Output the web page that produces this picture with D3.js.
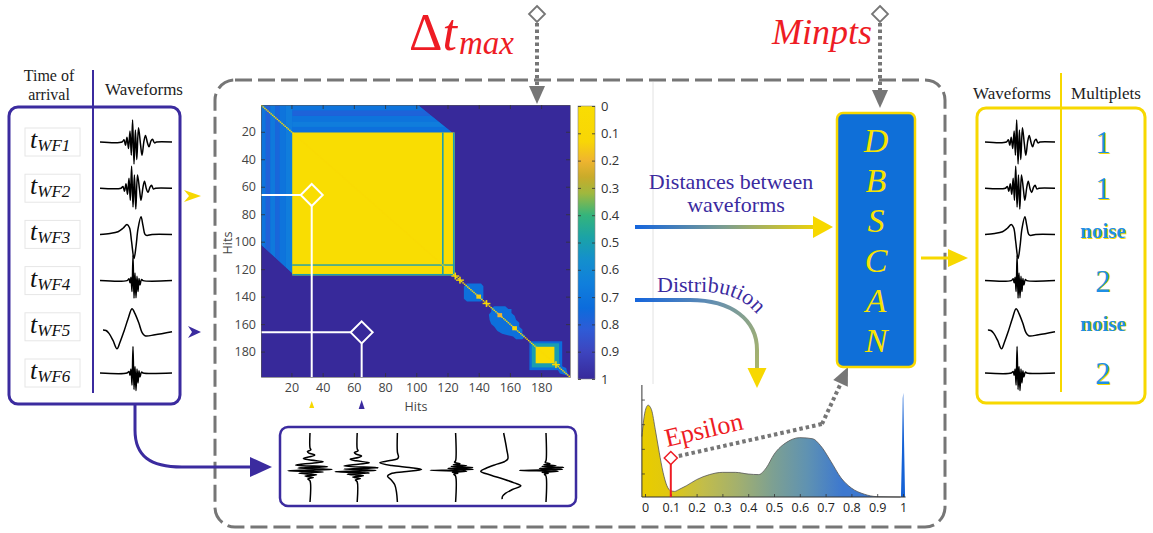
<!DOCTYPE html>
<html>
<head>
<meta charset="utf-8">
<script src="https://cdn.jsdelivr.net/npm/d3@7"></script>
<style>
  html, body { margin: 0; padding: 0; background: #fff; }
  svg { display: block; }
</style>
</head>
<body>
<svg id="fig" width="1153" height="533"></svg>
<script>
// ---------------- data ----------------
const waveNames = ["WF1", "WF2", "WF3", "WF4", "WF5", "WF6"];
const multiplets = ["1", "1", "noise", "2", "noise", "2"];

// waveform samples: [time (0-72), normalised amplitude]
const wave1 = [[0,0],[22,0],[24,0.1],[25.5,-0.15],[27,0.22],[28.5,-0.3],[30,0.5],[31.3,-0.6],[32.6,1.0],[34,-1.0],[35.4,0.55],[36.8,-0.8],[38.5,0.65],[40.5,-0.1],[42,-0.6],[44,0.05],[45.5,0.3],[47.5,-0.05],[49,-0.22],[51,0.05],[52.5,0.12],[54.5,-0.04],[56.5,0],[72,0]];
const wave2 = [[0,0],[21,0],[23,0.08],[24.5,-0.14],[26,0.2],[27.5,-0.28],[29,0.45],[30.3,-0.55],[31.6,1.0],[33,-0.85],[34.4,0.6],[35.8,-0.95],[37.5,0.6],[39.5,-0.05],[41,-0.55],[43,0.05],[44.5,0.32],[46.5,-0.05],[48,-0.2],[50,0.05],[51.5,0.13],[53.5,-0.04],[55.5,0],[72,0]];
const wave3 = [[0,0],[10,0.04],[18,0.12],[23,0.28],[27,0.45],[29.5,0.3],[31.5,-0.3],[34,-1.1],[36,-0.55],[38,0.25],[41,0.8],[43,0.4],[45,0.0],[47,-0.05],[52,0],[72,0]];
const wave4 = [[0,0],[27,0],[29,0.08],[30,-0.1],[31,0.15],[32,-0.5],[33,1.15],[34,-0.8],[35,0.35],[36,-0.78],[37,0.2],[38,-0.5],[39,0.1],[40,-0.2],[41.5,0.05],[43,0],[72,0]];
const wave5 = [[3,-0.15],[6,-0.17],[9,-0.3],[13,-0.62],[17,-1.0],[20,-0.7],[24,-0.2],[28,0.35],[32,0.82],[35,0.6],[39,0.15],[42,-0.25],[45,-0.41],[55,-0.36],[72,-0.22]];
const wave6 = [[0,0],[27,0],[29,0.07],[30,-0.1],[31,0.18],[32,-0.55],[33,1.2],[34,-0.75],[35,0.3],[36,-0.8],[37,0.18],[38,-0.45],[39,0.1],[40,-0.18],[41.5,0.04],[43,0],[72,0]];
const waves = [wave1, wave2, wave3, wave4, wave5, wave6];

// distance matrix between hits
const hitDomain = [0.5, 198.5];
const hitTicks = [20, 40, 60, 80, 100, 120, 140, 160, 180];
const colorbarTicks = [0, 0.1, 0.2, 0.3, 0.4, 0.5, 0.6, 0.7, 0.8, 0.9, 1];
const colorStops  = [0, 0.13, 0.2, 0.26, 0.32, 0.4, 0.48, 0.56, 0.65, 0.74, 0.82, 0.9, 1];
const colorValues = ["#f9dd02","#f8d606","#efb52f","#c9ab2a","#9fb83e","#34b47c","#1ba3a6","#1490cc","#107fdc","#0c6cdc","#2f5bd6","#3d45bf","#37299a"];

const bandPolygon = [[0.5,0.5],[101,0.5],[124.5,22],[124.5,124.5],[22,124.5],[0.5,102]];
const bandValue = 0.74;
const bandStripeCols = [[0.5,3.5,0.7],[3.5,6.5,0.79],[6.5,9.5,0.68],[9.5,12.5,0.77],[12.5,16.5,0.7],[16.5,20.5,0.66]];
const bandStripeRows = [[0.5,4.5,0.7],[4.5,8.5,0.78],[8.5,12.5,0.7],[12.5,16.5,0.66],[16.5,20.5,0.72]];
const coreBlock = [20.5, 124.5];
const coreSeams = [117, 124];
const seamValue = 0.5;
const clusterA = [[132.5,130.5],[141.5,130.5],[143,132.5],[143,141.5],[141.5,143.5],[132.5,143.5],[130.5,141.5],[130.5,132.5]];
const clusterB = [[150,147],[157,147],[159,149],[161,149],[161,152],[163,154],[164,157],[166,159],[166,162],[168,164],[168,167],[170,168.5],[168,171],[164,171],[162,169],[158,168],[155,167],[152,165],[150,162],[148,160],[147,157],[146.5,153],[148,151],[148,148]];
const clusterC = [[172.5,193.5,0.74],[174,191.5,0.5],[176.5,188.5,0]];
const clusterTail = [[188,188],[196,192],[197.5,197.5],[192,196]];
const diagonalMarks = [125, 128, 145, 189.5];
const diagonalDots = [[153.5, 0.2], [140, 0.15], [163, 0.12]];
const pickedPairs = [[33, 66], [65, 166]];   // (column hit, row hit)

// distribution of distances
const distX = [-0.012, 0, 0.012, 0.025, 0.04, 0.055, 0.07, 0.085, 0.1, 0.115, 0.13, 0.16, 0.2, 0.25, 0.3, 0.35, 0.4, 0.44, 0.47, 0.5, 0.55, 0.6, 0.65, 0.68, 0.72, 0.76, 0.8, 0.85, 0.9, 0.99];
const distY = [0.54, 0.76, 0.82, 0.78, 0.6, 0.4, 0.22, 0.1, 0.055, 0.05, 0.065, 0.1, 0.155, 0.2, 0.22, 0.22, 0.205, 0.2, 0.26, 0.38, 0.49, 0.53, 0.52, 0.46, 0.32, 0.17, 0.08, 0.025, 0.003, 0];
const spikeX = [0.992, 0.996, 0.999, 1.001, 1.004, 1.008];
const spikeY = [0, 0.4, 0.88, 0.93, 0.5, 0];
const distTicks = [0, 0.1, 0.2, 0.3, 0.4, 0.5, 0.6, 0.7, 0.8, 0.9, 1];
const densityTicks = [0.21, 0.43, 0.65, 0.87];
const epsilon = 0.1;
const distGradOffsets = [0, 0.1, 0.25, 0.4, 0.55, 0.7, 0.85];
const distGradColors = ["#e8cc00", "#e0c810", "#c2bd4a", "#a3b06e", "#7da092", "#5f92b2", "#3d78cf"];

// ---------------- styles ----------------
const SERIF = "'Liberation Serif', 'DejaVu Serif', serif";
const SANS = "'Open Sans', 'Noto Sans', 'DejaVu Sans', sans-serif";
const PURPLE = "#3b2b9f";
const YELLOW = "#f7d800";
const RED = "#ee1c24";
const GRAY = "#767676";
const BLUE_TXT = "#1f8fe5";

const svg = d3.select("#fig");
const defs = svg.append("defs");

function arrowHead(g, tip, angleDeg, len, wid, color) {
  const a = angleDeg * Math.PI / 180;
  const ux = Math.cos(a), uy = Math.sin(a);
  const px = -uy, py = ux;
  const bx = tip[0] - ux * len, by = tip[1] - uy * len;
  g.append("path")
    .attr("d", `M${tip[0]},${tip[1]}L${bx + px * wid / 2},${by + py * wid / 2}L${bx - px * wid / 2},${by - py * wid / 2}Z`)
    .attr("fill", color);
}

const waveLine = d3.line().curve(d3.curveCatmullRom.alpha(0.5));

function drawWave(g, data, x0, cy, width, amp) {
  const x = d3.scaleLinear().domain([0, 72]).range([x0, x0 + width]);
  const y = d3.scaleLinear().domain([-1, 1]).range([cy + amp, cy - amp]);
  g.append("path")
    .attr("d", waveLine.x(d => x(d[0])).y(d => y(d[1]))(data))
    .attr("fill", "none").attr("stroke", "#000")
    .attr("stroke-width", 1.5).attr("stroke-linejoin", "round");
}

function drawWaveVertical(g, data, cx, yBottom, height, amp) {
  const t = d3.scaleLinear().domain([0, 72]).range([yBottom, yBottom - height]);
  const a = d3.scaleLinear().domain([-1, 1]).range([cx + amp, cx - amp]);
  g.append("path")
    .attr("d", waveLine.x(d => a(d[1])).y(d => t(d[0]))(data))
    .attr("fill", "none").attr("stroke", "#000")
    .attr("stroke-width", 1.5).attr("stroke-linejoin", "round");
}

function diamond(g, cx, cy, r, stroke, sw, fill) {
  g.append("path")
    .attr("d", `M${cx},${cy - r}L${cx + r},${cy}L${cx},${cy + r}L${cx - r},${cy}Z`)
    .attr("fill", fill || "#fff").attr("stroke", stroke).attr("stroke-width", sw);
}

// ---------------- central dashed frame ----------------
svg.append("rect")
  .attr("x", 215).attr("y", 80).attr("width", 730).attr("height", 447).attr("rx", 20)
  .attr("fill", "none").attr("stroke", GRAY).attr("stroke-width", 3)
  .attr("stroke-dasharray", "17,6");
svg.append("line").attr("x1", 653).attr("x2", 653).attr("y1", 82).attr("y2", 384)
  .attr("stroke", "#e2e2e2").attr("stroke-width", 1);

// ---------------- left panel: arrival times ----------------
const rowY = d3.scalePoint().domain(d3.range(6)).range([142, 373]);
const left = svg.append("g");
left.append("rect").attr("x", 9).attr("y", 107).attr("width", 171).attr("height", 297).attr("rx", 9)
  .attr("fill", "none").attr("stroke", PURPLE).attr("stroke-width", 3);
left.append("line").attr("x1", 93).attr("x2", 93).attr("y1", 70).attr("y2", 393)
  .attr("stroke", PURPLE).attr("stroke-width", 2);
left.append("text").attr("x", 49).attr("y", 81).attr("text-anchor", "middle")
  .style("font-family", SERIF).style("font-size", "16px").attr("fill", "#222").text("Time of");
left.append("text").attr("x", 49).attr("y", 100).attr("text-anchor", "middle")
  .style("font-family", SERIF).style("font-size", "16px").attr("fill", "#222").text("arrival");
left.append("text").attr("x", 144).attr("y", 95).attr("text-anchor", "middle")
  .style("font-family", SERIF).style("font-size", "17px").attr("fill", "#222").text("Waveforms");

waveNames.forEach((name, i) => {
  const cy = rowY(i);
  left.append("rect").attr("x", 25).attr("y", cy - 14).attr("width", 55).attr("height", 28)
    .attr("fill", "#fff").attr("stroke", "#e6e6e6").attr("stroke-width", 1);
  const t = left.append("text").attr("x", 30).attr("y", cy + 6)
    .style("font-family", SERIF).style("font-style", "italic").attr("fill", "#111");
  t.append("tspan").style("font-size", "26px").text("t");
  t.append("tspan").style("font-size", "17px").attr("dy", 3).text(name);
  drawWave(left, waves[i], 100, cy, 72, 22);
});

// small pointers on arrival rows
svg.append("path").attr("d", "M184,190L201,196L184,202L189,196Z").attr("fill", YELLOW);
svg.append("path").attr("d", "M188,326L201,332L188,338L192,332Z").attr("fill", PURPLE);

// arrow to the stacked waveforms
svg.append("path").attr("d", "M135,404L135,430C135,456 150,467 182,467L252,467")
  .attr("fill", "none").attr("stroke", PURPLE).attr("stroke-width", 3);
arrowHead(svg, [272, 467], 0, 22, 20, PURPLE);

// ---------------- stacked (rotated) waveforms ----------------
const stack = svg.append("g");
stack.append("rect").attr("x", 280).attr("y", 427).attr("width", 296).attr("height", 79).attr("rx", 8)
  .attr("fill", "#fff").attr("stroke", PURPLE).attr("stroke-width", 2.5);
const stackX = d3.scalePoint().domain(d3.range(6)).range([310, 546]);
const stackShift = [0, 0, -7, 4, 0, 0];
waves.forEach((w, i) => drawWaveVertical(stack, w, stackX(i) + stackShift[i], 502, 69, 22));

// ---------------- distance matrix ----------------
const hx = d3.scaleLinear().domain(hitDomain).range([261, 570]);
const hy = d3.scaleLinear().domain(hitDomain).range([105, 377]);
const cmap = d3.scaleLinear().domain(colorStops).range(colorValues).interpolate(d3.interpolateRgb);
const poly = pts => "M" + pts.map(p => hx(p[0]) + "," + hy(p[1])).join("L") + "Z";
const cell = (g, c0, c1, r0, r1, v) => g.append("rect")
  .attr("x", hx(c0)).attr("y", hy(r0))
  .attr("width", hx(c1) - hx(c0)).attr("height", hy(r1) - hy(r0))
  .attr("fill", cmap(v));

defs.append("clipPath").attr("id", "heatClip").append("rect")
  .attr("x", hx(hitDomain[0])).attr("y", hy(hitDomain[0]))
  .attr("width", hx(hitDomain[1]) - hx(hitDomain[0])).attr("height", hy(hitDomain[1]) - hy(hitDomain[0]));
defs.append("clipPath").attr("id", "bandClip").append("path").attr("d", poly(bandPolygon));

const heat = svg.append("g").attr("clip-path", "url(#heatClip)");
cell(heat, hitDomain[0], hitDomain[1], hitDomain[0], hitDomain[1], 1);
heat.append("path").attr("d", poly(bandPolygon)).attr("fill", cmap(bandValue));
const stripes = heat.append("g").attr("clip-path", "url(#bandClip)");
bandStripeRows.forEach(([a, b, v]) => cell(stripes, 20.5, 124.5, a, b, v));
bandStripeCols.forEach(([a, b, v]) => cell(stripes, a, b, 0.5, 124.5, v));

cell(heat, coreBlock[0], coreBlock[1], coreBlock[0], coreBlock[1], 0);
coreSeams.forEach(s => {
  cell(heat, s - 0.5, s + 0.5, coreBlock[0], coreBlock[1], seamValue);
  cell(heat, coreBlock[0], coreBlock[1], s - 0.5, s + 0.5, seamValue);
});

heat.append("path").attr("d", poly(clusterA)).attr("fill", cmap(0.72));
heat.append("path").attr("d", poly(clusterB)).attr("fill", cmap(0.72));
heat.append("path").attr("d", poly(clusterTail)).attr("fill", cmap(0.72));
clusterC.forEach(([a, b, v]) => cell(heat, a, b, a, b, v));

d3.range(1, 199).forEach(i => cell(heat, i - 0.5, i + 0.5, i - 0.5, i + 0.5, 0.05));
diagonalMarks.forEach(h => {
  cell(heat, h - 2.5, h + 2.5, h - 0.5, h + 0.5, 0.1);
  cell(heat, h - 0.5, h + 0.5, h - 2.5, h + 2.5, 0.1);
});
diagonalDots.forEach(([h, v]) => cell(heat, h - 1.5, h + 1.5, h - 1.5, h + 1.5, v));

// highlighted pairs
const picks = svg.append("g");
pickedPairs.forEach(([c, r]) => {
  picks.append("line").attr("x1", hx(hitDomain[0])).attr("x2", hx(c) - 11)
    .attr("y1", hy(r)).attr("y2", hy(r)).attr("stroke", "#fff").attr("stroke-width", 2);
  picks.append("line").attr("x1", hx(c)).attr("x2", hx(c))
    .attr("y1", hy(r) + 11).attr("y2", hy(hitDomain[1])).attr("stroke", "#fff").attr("stroke-width", 2);
  diamond(picks, hx(c), hy(r), 11, "#fff", 2, "none");
});
svg.append("path").attr("d", `M${hx(pickedPairs[0][0]) - 2.5},408L${hx(pickedPairs[0][0])},401L${hx(pickedPairs[0][0]) + 2.5},408Z`).attr("fill", YELLOW);
svg.append("path").attr("d", `M${hx(pickedPairs[1][0]) - 3},409L${hx(pickedPairs[1][0])},400L${hx(pickedPairs[1][0]) + 3},409Z`).attr("fill", PURPLE);

// axes (ticks pointing inwards)
function styleAxis(g) {
  g.select(".domain").attr("stroke", "#555").attr("stroke-width", 0.6);
  g.selectAll(".tick line").attr("stroke", "#333").attr("stroke-width", 0.8);
  g.selectAll(".tick text").attr("fill", "#444").style("font-family", SANS).style("font-size", "12.5px");
}
svg.append("g").attr("transform", `translate(${hx(hitDomain[0])},0)`)
  .call(d3.axisLeft(hy).tickValues(hitTicks).tickSizeInner(-4).tickSizeOuter(0).tickPadding(5)).call(styleAxis);
svg.append("g").attr("transform", `translate(0,${hy(hitDomain[1])})`)
  .call(d3.axisBottom(hx).tickValues(hitTicks).tickSizeInner(-4).tickSizeOuter(0).tickPadding(6)).call(styleAxis);
svg.append("g").attr("transform", `translate(0,${hy(hitDomain[0])})`)
  .call(d3.axisTop(hx).tickValues(hitTicks).tickSizeInner(-4).tickSizeOuter(0).tickFormat("")).call(styleAxis);
svg.append("g").attr("transform", `translate(${hx(hitDomain[1])},0)`)
  .call(d3.axisRight(hy).tickValues(hitTicks).tickSizeInner(-4).tickSizeOuter(0).tickFormat("")).call(styleAxis);
svg.append("text").attr("transform", "translate(232,243) rotate(-90)").attr("text-anchor", "middle")
  .style("font-family", SANS).style("font-size", "12.5px").attr("fill", "#444").text("Hits");
svg.append("text").attr("x", 416).attr("y", 411).attr("text-anchor", "middle")
  .style("font-family", SANS).style("font-size", "12.5px").attr("fill", "#444").text("Hits");

// colorbar
const cb = d3.scaleLinear().domain([0, 1]).range([106, 379]);
const cbGrad = defs.append("linearGradient").attr("id", "cbGrad").attr("x1", 0).attr("x2", 0).attr("y1", 0).attr("y2", 1);
colorStops.forEach((s, i) => cbGrad.append("stop").attr("offset", s).attr("stop-color", colorValues[i]));
svg.append("rect").attr("x", 578).attr("y", cb(0)).attr("width", 17).attr("height", cb(1) - cb(0))
  .attr("fill", "url(#cbGrad)").attr("stroke", "#888").attr("stroke-width", 0.6);
svg.append("g").attr("transform", "translate(595,0)")
  .call(d3.axisRight(cb).tickValues(colorbarTicks).tickSizeInner(-3).tickSizeOuter(0).tickPadding(6).tickFormat(d3.format("")))
  .call(styleAxis).call(g => g.select(".domain").remove())
  .call(g => g.selectAll(".tick text").attr("fill", "#333").style("font-size", "13px"));
svg.append("g").attr("transform", "translate(578,0)")
  .call(d3.axisLeft(cb).tickValues(colorbarTicks).tickSizeInner(-3).tickSizeOuter(0).tickFormat(""))
  .call(styleAxis).call(g => g.select(".domain").remove());

// Δt_max control
svg.append("line").attr("x1", 537).attr("x2", 537).attr("y1", 23).attr("y2", 86)
  .attr("stroke", GRAY).attr("stroke-width", 4).attr("stroke-dasharray", "3.5,3");
arrowHead(svg, [537, 104], 90, 18, 16, GRAY);
diamond(svg, 537, 14, 8, GRAY, 1.8);
const dt = svg.append("text").attr("x", 409).attr("y", 50).attr("fill", RED).style("font-family", SERIF);
dt.append("tspan").style("font-size", "52px").text("Δ");
dt.append("tspan").style("font-size", "52px").style("font-style", "italic").text("t");
dt.append("tspan").style("font-size", "33px").style("font-style", "italic").attr("dx", 2).attr("dy", 4).text("max");

// ---------------- distances → DBSCAN ----------------
const distGradLine = defs.append("linearGradient").attr("id", "distLine").attr("gradientUnits", "userSpaceOnUse")
  .attr("x1", 635).attr("x2", 815).attr("y1", 0).attr("y2", 0);
distGradLine.append("stop").attr("offset", 0).attr("stop-color", "#1565dd");
distGradLine.append("stop").attr("offset", 0.5).attr("stop-color", "#7d9e90");
distGradLine.append("stop").attr("offset", 1).attr("stop-color", "#ecd20a");
svg.append("line").attr("x1", 635).attr("x2", 815).attr("y1", 227).attr("y2", 227)
  .attr("stroke", "url(#distLine)").attr("stroke-width", 4);
arrowHead(svg, [833, 227], 0, 20, 22, YELLOW);
svg.append("text").attr("x", 731).attr("y", 189).attr("text-anchor", "middle")
  .style("font-family", SERIF).style("font-size", "22px").attr("fill", PURPLE).text("Distances  between");
svg.append("text").attr("x", 736).attr("y", 212).attr("text-anchor", "middle")
  .style("font-family", SERIF).style("font-size", "22px").attr("fill", PURPLE).text("waveforms");

// distribution arrow (curved)
const distrGrad = defs.append("linearGradient").attr("id", "distrLine").attr("gradientUnits", "userSpaceOnUse")
  .attr("x1", 635).attr("y1", 300).attr("x2", 757).attr("y2", 368);
distrGrad.append("stop").attr("offset", 0).attr("stop-color", "#1565dd");
distrGrad.append("stop").attr("offset", 0.55).attr("stop-color", "#6c93aa");
distrGrad.append("stop").attr("offset", 1).attr("stop-color", "#a8b46a");
svg.append("path").attr("d", "M635,300L690,300C732,300 757,320 757,350L757,369")
  .attr("fill", "none").attr("stroke", "url(#distrLine)").attr("stroke-width", 4);
arrowHead(svg, [757, 388], 90, 20, 19, YELLOW);
defs.append("path").attr("id", "distrTextPath").attr("d", "M657,292L702,292C742,292 767,313 770,350");
svg.append("text").style("font-family", SERIF).style("font-size", "22px").attr("fill", PURPLE)
  .append("textPath").attr("href", "#distrTextPath").text("Distribution");

// ---------------- distribution of distances ----------------
const dx = d3.scaleLinear().domain([0, 1]).range([645, 903]);
const dy = d3.scaleLinear().domain([0, 1]).range([497, 385]);
const dGrad = defs.append("linearGradient").attr("id", "distFill").attr("gradientUnits", "userSpaceOnUse")
  .attr("x1", dx(0)).attr("x2", dx(0.9)).attr("y1", 0).attr("y2", 0);
distGradOffsets.forEach((o, i) => dGrad.append("stop").attr("offset", o).attr("stop-color", distGradColors[i]));
const distPts = distX.map((x, i) => [x, distY[i]]);
const area = d3.area().x(d => dx(d[0])).y0(dy(0)).y1(d => dy(d[1])).curve(d3.curveMonotoneX);
svg.append("path").attr("d", area(distPts)).attr("fill", "url(#distFill)");
svg.append("path").attr("d", d3.line().x(d => dx(d[0])).y(d => dy(d[1])).curve(d3.curveMonotoneX)(distPts))
  .attr("fill", "none").attr("stroke", "#555").attr("stroke-width", 0.8);
const spikePts = spikeX.map((x, i) => [x, spikeY[i]]);
svg.append("path").attr("d", d3.area().x(d => dx(d[0])).y0(dy(0)).y1(d => dy(d[1]))(spikePts)).attr("fill", "#1562d6");

svg.append("g").attr("transform", `translate(0,${dy(0)})`)
  .call(d3.axisBottom(dx).tickValues(distTicks).tickSizeInner(-3).tickSizeOuter(0).tickPadding(6).tickFormat(d3.format("")))
  .call(styleAxis)
  .call(g => g.select(".domain").attr("d", `M${dx(-0.012)},0H${dx(1.01)}`).attr("stroke", "#333").attr("stroke-width", 1))
  .call(g => g.selectAll(".tick text").attr("fill", "#222").style("font-size", "12.5px"));
svg.append("g").attr("transform", `translate(${dx(-0.012)},0)`)
  .call(d3.axisLeft(dy).tickValues(densityTicks).tickSizeInner(-3).tickSizeOuter(0).tickFormat(""))
  .call(styleAxis)
  .call(g => g.select(".domain").attr("d", `M0,${dy(0)}V${dy(1)}`).attr("stroke", "#333").attr("stroke-width", 1));

// epsilon
svg.append("line").attr("x1", dx(epsilon)).attr("x2", dx(epsilon)).attr("y1", dy(0)).attr("y2", 464)
  .attr("stroke", RED).attr("stroke-width", 2);
svg.append("line").attr("x1", dx(epsilon) + 8).attr("y1", 456).attr("x2", 822).attr("y2", 424)
  .attr("stroke", GRAY).attr("stroke-width", 4).attr("stroke-dasharray", "3.5,3");
svg.append("line").attr("x1", 822).attr("y1", 424).attr("x2", 840.5).attr("y2", 384)
  .attr("stroke", GRAY).attr("stroke-width", 4).attr("stroke-dasharray", "3.5,3");
arrowHead(svg, [848, 367], -65.5, 18, 16, GRAY);
diamond(svg, dx(epsilon), 458, 6.5, RED, 1.5);
svg.append("text").attr("transform", "translate(667,447) rotate(-13)")
  .style("font-family", SERIF).style("font-size", "26px").attr("fill", RED).text("Epsilon");

// ---------------- DBSCAN ----------------
svg.append("rect").attr("x", 837).attr("y", 113).attr("width", 78).attr("height", 254).attr("rx", 6)
  .attr("fill", "#0f6fd8").attr("stroke", YELLOW).attr("stroke-width", 2.5);
const letterY = d3.scalePoint().domain(d3.range(6)).range([152, 352]);
["D", "B", "S", "C", "A", "N"].forEach((l, i) => {
  svg.append("text").attr("x", 876).attr("y", letterY(i)).attr("text-anchor", "middle")
    .style("font-family", SERIF).style("font-style", "italic").style("font-size", "34px")
    .attr("fill", "#f7e300").text(l);
});
svg.append("line").attr("x1", 880).attr("x2", 880).attr("y1", 23).attr("y2", 90)
  .attr("stroke", GRAY).attr("stroke-width", 4).attr("stroke-dasharray", "3.5,3");
arrowHead(svg, [880, 108], 90, 18, 16, GRAY);
diamond(svg, 880, 14, 8, GRAY, 1.8);
svg.append("text").attr("x", 872).attr("y", 44).attr("text-anchor", "end")
  .style("font-family", SERIF).style("font-style", "italic").style("font-size", "36px")
  .attr("fill", RED).text("Minpts");

svg.append("line").attr("x1", 921).attr("x2", 950).attr("y1", 258).attr("y2", 258)
  .attr("stroke", YELLOW).attr("stroke-width", 3);
arrowHead(svg, [968, 258], 0, 20, 18, YELLOW);

// ---------------- right panel: multiplets ----------------
const right = svg.append("g");
right.append("rect").attr("x", 977).attr("y", 108).attr("width", 168).attr("height", 295).attr("rx", 9)
  .attr("fill", "none").attr("stroke", YELLOW).attr("stroke-width", 3);
right.append("line").attr("x1", 1061).attr("x2", 1061).attr("y1", 73).attr("y2", 392)
  .attr("stroke", YELLOW).attr("stroke-width", 2);
right.append("text").attr("x", 1012).attr("y", 99).attr("text-anchor", "middle")
  .style("font-family", SERIF).style("font-size", "17px").attr("fill", "#222").text("Waveforms");
right.append("text").attr("x", 1106).attr("y", 99).attr("text-anchor", "middle")
  .style("font-family", SERIF).style("font-size", "17px").attr("fill", "#222").text("Multiplets");
multiplets.forEach((m, i) => {
  const cy = rowY(i);
  drawWave(right, waves[i], 985, cy, 70, 22);
  const isNoise = m === "noise";
  const size = isNoise ? "21px" : "31px";
  const base = cy + (isNoise ? 4 : 11);
  right.append("text").attr("x", 1104.3).attr("y", base + 0.6).attr("text-anchor", "middle")
    .style("font-family", SERIF).style("font-size", size).style("font-weight", isNoise ? "bold" : "normal")
    .attr("fill", YELLOW).text(m);
  right.append("text").attr("x", 1103).attr("y", base).attr("text-anchor", "middle")
    .style("font-family", SERIF).style("font-size", size).style("font-weight", isNoise ? "bold" : "normal")
    .attr("fill", BLUE_TXT).text(m);
});
</script>
</body>
</html>
